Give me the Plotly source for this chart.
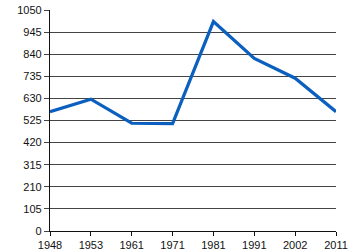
import plotly.graph_objects as go

years = ["1948", "1953", "1961", "1971", "1981", "1991", "2002", "2011"]
values = [567, 626, 512, 510, 995, 820, 726, 567]
y_ticks = [0, 105, 210, 315, 420, 525, 630, 735, 840, 945, 1050]

fig = go.Figure()
fig.add_trace(go.Scatter(
    x=years, y=values, mode="lines",
    line=dict(color="#0a5fbf", width=3.2),
    hoverinfo="skip",
))

fig.update_layout(
    width=350, height=250,
    margin=dict(l=50, r=14, t=10, b=19),
    paper_bgcolor="white", plot_bgcolor="white",
    showlegend=False,
    font=dict(family="Liberation Sans, Arial, sans-serif", size=11, color="#111"),
)
fig.update_xaxes(
    type="category", range=[0, len(years) - 1],
    showgrid=False, showline=True, linecolor="#111", linewidth=1.3,
    ticks="outside", ticklen=4, tickcolor="#111",
    tickfont=dict(size=11), fixedrange=True, automargin=False,
)
fig.update_yaxes(
    range=[0, 1050], tickvals=y_ticks,
    showgrid=True, gridcolor="#444", gridwidth=1,
    showline=True, linecolor="#111", linewidth=1.3,
    ticks="outside", ticklen=5, tickcolor="#444",
    tickfont=dict(size=11), zeroline=False, fixedrange=True, automargin=False,
)

fig.write_html("out.html", config={"displayModeBar": False})
